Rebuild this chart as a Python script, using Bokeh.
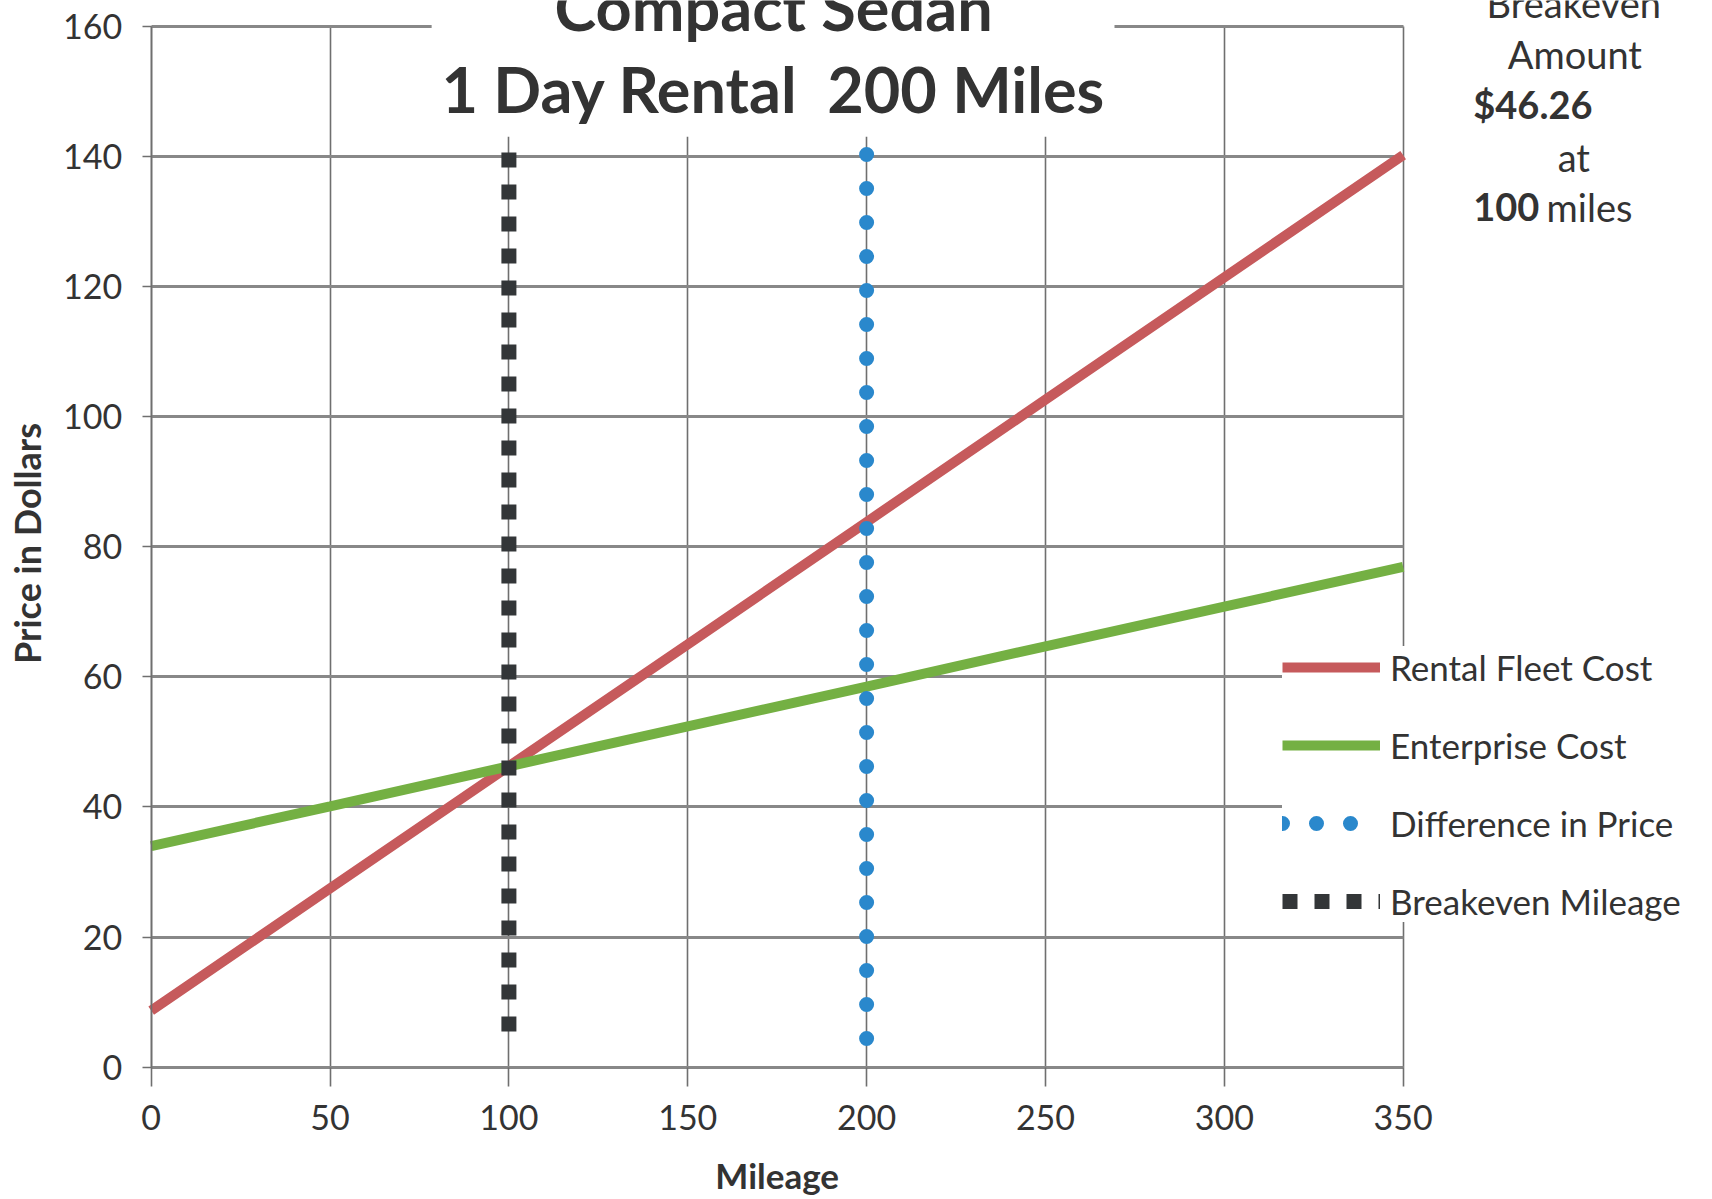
import math
from bokeh.plotting import figure
from bokeh.models import Range1d, Label, BoxAnnotation, Legend, LegendItem, FixedTicker
from bokeh.embed import file_html
from bokeh.resources import INLINE

# ---- data ----
mileage = [0, 50, 100, 150, 200, 250, 300, 350]
rental_fleet_cost = [8.7, 27.5, 46.26, 65.0, 83.8, 102.6, 121.4, 140.2]
enterprise_cost = [34.0, 40.1, 46.26, 52.4, 58.5, 64.7, 70.8, 76.9]
difference_x = [200, 200]
difference_y = [140.3, 4.3]
breakeven_x = [100, 100]
breakeven_y = [140.6, 3.6]
x_ticks = [0, 50, 100, 150, 200, 250, 300, 350]
y_ticks = [0, 20, 40, 60, 80, 100, 120, 140, 160]

title_lines = ["Compact Sedan", "1 Day Rental\u00a0 200 Miles"]
series_names = ["Rental Fleet Cost", "Enterprise Cost", "Difference in Price", "Breakeven Mileage"]
x_label = "Mileage"
y_label = "Price in Dollars"

FONT = "Lato"
TXT = "#333333"
BLUE = "#2a88cc"
DARK = "#333638"

# the frame covers the whole canvas; axes sit at fixed data locations
p = figure(width=1712, height=1199,
           x_range=Range1d(-42.13, 436.48), y_range=Range1d(-20.33, 163.96),
           output_backend="svg", toolbar_location=None,
           min_border_left=0, min_border_right=0, min_border_top=0, min_border_bottom=0)
p.outline_line_color = None
p.background_fill_color = "white"
p.border_fill_color = "white"

# grid
xg, yg = p.xgrid[0], p.ygrid[0]
xg.ticker = FixedTicker(ticks=x_ticks)
yg.ticker = FixedTicker(ticks=y_ticks)
xg.grid_line_color = "#6f6f6f"
xg.grid_line_width = 1.6
yg.grid_line_color = "#888888"
yg.grid_line_width = 3
if "cross_bounds" in xg.properties():
    xg.cross_bounds = (0, 160)
    yg.cross_bounds = (0, 350)
else:
    for kw in (dict(left=350.4), dict(bottom=160.3), dict(right=-0.3), dict(top=-0.3)):
        p.add_layout(BoxAnnotation(fill_color="white", fill_alpha=1.0, line_alpha=0,
                                   level="underlay", **kw))

# axes
xa, ya = p.xaxis[0], p.yaxis[0]
xa.ticker = FixedTicker(ticks=x_ticks)
ya.ticker = FixedTicker(ticks=y_ticks)
xa.fixed_location = 0
ya.fixed_location = 0
xa.bounds = (0, 350)
ya.bounds = (0, 160)
xa.axis_line_color = "#888888"
xa.axis_line_width = 3
ya.axis_line_color = "#6f6f6f"
ya.axis_line_width = 1.6
for ax in (xa, ya):
    ax.major_tick_line_color = "#6f6f6f"
    ax.major_tick_line_width = 1.6
    ax.major_tick_in = 0
    ax.minor_tick_line_color = None
    ax.major_label_text_font = FONT
    ax.major_label_text_font_size = "34px"
    ax.major_label_text_color = TXT
xa.major_tick_out = 19
xa.major_label_standoff = 19
ya.major_tick_out = 9
ya.major_label_standoff = 20

# axis titles
p.add_layout(Label(x=175.0, y=-16.55, text=x_label, text_align="center",
                   text_baseline="alphabetic", text_font=FONT, text_font_style="bold",
                   text_font_size="35px", text_color=TXT))
p.add_layout(Label(x=-34.6, y=80.5, text=y_label, text_align="center", angle=math.pi / 2,
                   text_baseline="middle", text_font=FONT, text_font_style="bold",
                   text_font_size="36px", text_color=TXT))

# white box behind the chart title
p.add_layout(BoxAnnotation(left=78.4, right=269.3, bottom=143.0, fill_color="white",
                           fill_alpha=1.0, line_alpha=0, level="underlay"))

# series
r1 = p.line(mileage, rental_fleet_cost, line_color="#c65a5c", line_width=10)
r2 = p.line(mileage, enterprise_cost, line_color="#74b043", line_width=10)
r3 = p.line(difference_x, difference_y, line_color=BLUE, line_width=15,
            line_dash="0 34", line_cap="round")
r4 = p.line(breakeven_x, breakeven_y, line_color=DARK, line_width=15,
            line_dash="15 17", line_cap="butt")

legend = Legend(items=[LegendItem(label=series_names[0], renderers=[r1]),
                       LegendItem(label=series_names[1], renderers=[r2]),
                       LegendItem(label=series_names[2], renderers=[r3]),
                       LegendItem(label=series_names[3], renderers=[r4])],
                location=(1282, 277))
legend.label_text_font = FONT
legend.label_text_font_size = "35px"
legend.label_text_color = TXT
legend.glyph_width = 98
legend.glyph_height = 42
legend.label_height = 42
legend.spacing = 36
legend.padding = 8
legend.margin = 0
legend.label_standoff = 10
legend.border_line_color = None
legend.background_fill_color = "white"
legend.background_fill_alpha = 1.0
p.add_layout(legend, "center")

# chart title (its top is cut off by the page edge, as in the scan)
for txt, yy in ((title_lines[0], 163.1), (title_lines[1], 150.4)):
    p.add_layout(Label(x=174.0, y=yy, text=txt, text_align="center",
                       text_baseline="alphabetic", text_font=FONT, text_font_style="bold",
                       text_font_size="63px", text_color=TXT))

# right-hand note
note_kw = dict(text_baseline="alphabetic", text_font=FONT, text_font_size="38px",
               text_color=TXT)
p.add_layout(Label(x=397.7, y=163.6, text="Breakeven", text_align="center", **note_kw))
p.add_layout(Label(x=398.0, y=155.7, text="Amount", text_align="center", **note_kw))
p.add_layout(Label(x=369.6, y=148.1, text="$46.26", text_align="left",
                   text_font_style="bold", **note_kw))
p.add_layout(Label(x=397.7, y=139.9, text="at", text_align="center", **note_kw))
p.add_layout(Label(x=369.6, y=132.2, text="100", text_align="left",
                   text_font_style="bold", **note_kw))
p.add_layout(Label(x=390.1, y=132.2, text="miles", text_align="left", **note_kw))

open("out.html", "w").write(file_html(p, INLINE))
